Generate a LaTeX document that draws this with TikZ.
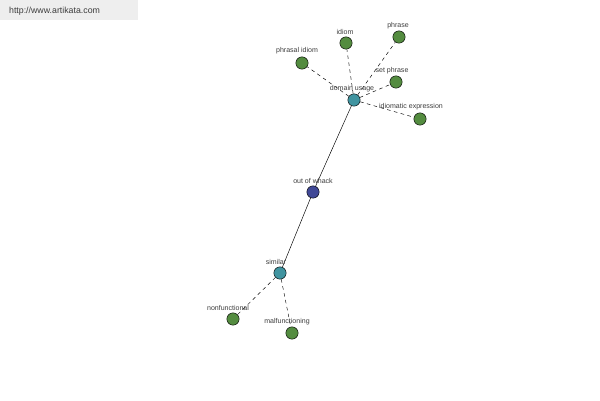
\documentclass[tikz,border=0pt]{standalone}
\usepackage{fontspec}
\setmainfont{Liberation Sans}
\definecolor{leafgreen}{RGB}{84,140,64}
\definecolor{hubteal}{RGB}{64,148,160}
\definecolor{rootblue}{RGB}{64,72,150}
\definecolor{bannergray}{RGB}{238,238,238}
\definecolor{labelgray}{RGB}{60,60,60}
\begin{document}
\begin{tikzpicture}[x=0.03cm,y=-0.03cm,
    leaf/.style={circle,draw=black,fill=leafgreen,inner sep=0pt,minimum size=10.5pt},
    hub/.style={leaf,fill=hubteal},
    root/.style={leaf,fill=rootblue},
    lbl/.style={font=\fontsize{6}{7}\selectfont,text=labelgray,inner sep=0pt}]
        \useasboundingbox (0,0) rectangle (600,400);
        % Banner
        \fill[bannergray] (0,0) rectangle (138,20);
        \node[font=\fontsize{7.5}{9}\selectfont,text=labelgray,anchor=west] (url) at (5,11) {http://www.artikata.com};

        % Nodes
        \node[root] (whack) at (313,192) {};
        \node[hub] (usage) at (354,100) {};
        \node[hub] (similar) at (280,273) {};
        \node[leaf] (idiom) at (346,43) {};
        \node[leaf] (phrase) at (399,37) {};
        \node[leaf] (phrasal) at (302,63) {};
        \node[leaf] (setphrase) at (396,82) {};
        \node[leaf] (idiomatic) at (420,119) {};
        \node[leaf] (nonfunc) at (233,319) {};
        \node[leaf] (malfunc) at (292,333) {};

        % Links
        \draw (whack) -- (usage);
        \draw (whack) -- (similar);
        \foreach \n in {idiom,phrase,phrasal,setphrase,idiomatic}
            \draw[dashed] (usage) -- (\n);
        \foreach \n in {nonfunc,malfunc}
            \draw[dashed] (similar) -- (\n);

        % Labels
        \node[lbl] (lwhack) at (313,181) {out of whack};
        \node[lbl] (lusage) at (352,89) {domain usage};
        \node[lbl] (lsimilar) at (276,262) {similar};
        \node[lbl] (lidiom) at (345,32) {idiom};
        \node[lbl] (lphrase) at (398,26) {phrase};
        \node[lbl] (lphrasal) at (297,51) {phrasal idiom};
        \node[lbl] (lsetphrase) at (392,71) {set phrase};
        \node[lbl] (lidiomatic) at (411,107) {idiomatic expression};
        \node[lbl] (lnonfunc) at (228,308) {nonfunctional};
        \node[lbl] (lmalfunc) at (287,322) {malfunctioning};
\end{tikzpicture}
\end{document}
